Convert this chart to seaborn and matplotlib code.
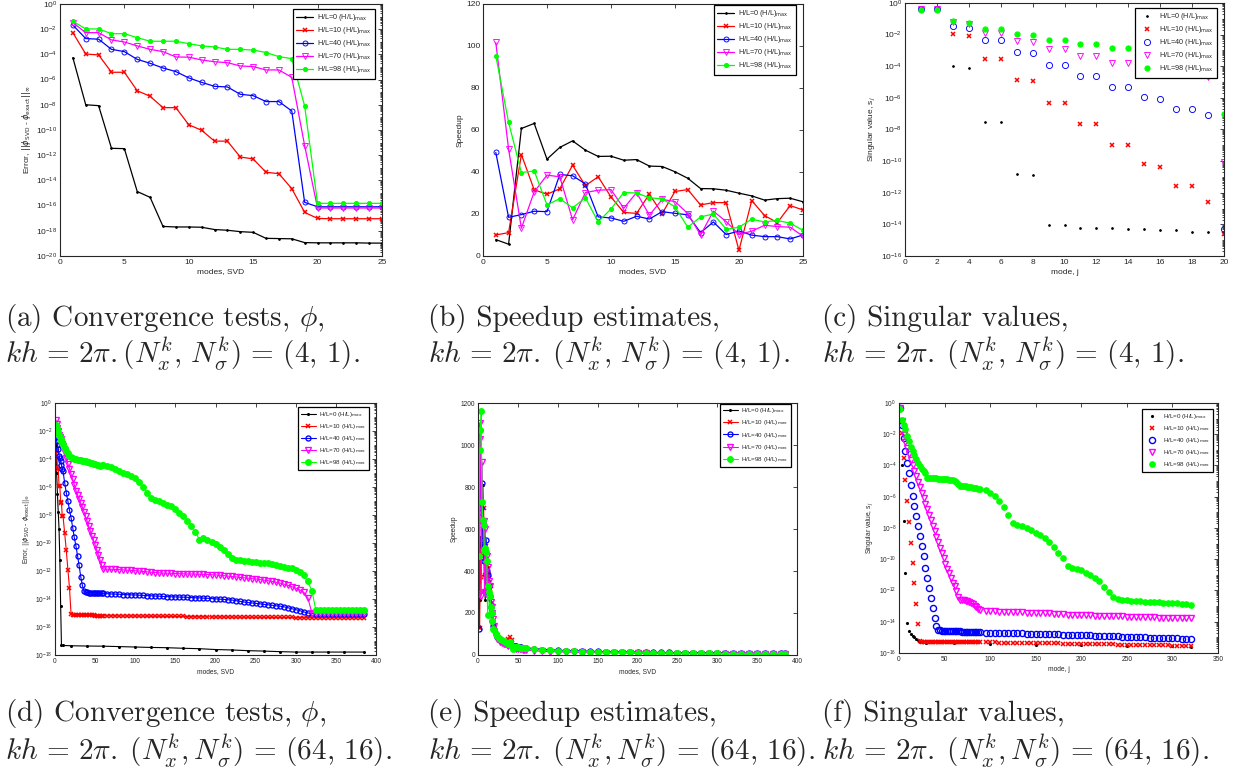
import numpy as np
import matplotlib
matplotlib.use("Agg")
import matplotlib.pyplot as plt
import matplotlib.ticker as mticker
import seaborn as sns

# ---------------- data ----------------
labels = [r"H/L=0 (H/L)$_{\rm max}$", r"H/L=10 (H/L)$_{\rm max}$", r"H/L=40 (H/L)$_{\rm max}$",
          r"H/L=70 (H/L)$_{\rm max}$", r"H/L=98 (H/L)$_{\rm max}$"]
colors = ["#000000", "#ff0000", "#0000ff", "#ff00ff", "#00ff00"]
markers = [".", "x", "o", "v", "o"]
filled = [True, True, False, False, True]

# (a) convergence, (4,1)
modes_a = list(range(1, 26))
a_h0 = [5.5e-5, 1.0e-8, 8.5e-9, 3.5e-12, 3.3e-12, 1.3e-15, 4.5e-16, 2.2e-18, 2.0e-18, 2.0e-18,
        1.9e-18, 1.25e-18, 1.1e-18, 8.5e-19, 7.5e-19, 2.5e-19, 2.4e-19, 2.3e-19, 1.15e-19, 1.1e-19,
        1.1e-19, 1.1e-19, 1.1e-19, 1.05e-19, 1.05e-19]
a_h10 = [5.3e-3, 1.07e-4, 9.0e-5, 3.8e-6, 3.8e-6, 1.3e-7, 4.7e-8, 5.9e-9, 5.9e-9, 2.6e-10,
         9.4e-11, 1.3e-11, 1.3e-11, 7.2e-13, 5.0e-13, 4.4e-14, 3.4e-14, 2.2e-15, 2.9e-17, 9.5e-18,
         9.0e-18, 9.0e-18, 9.0e-18, 9.0e-18, 9.0e-18]
a_h40 = [2.1e-2, 1.8e-3, 1.6e-3, 2.5e-4, 1.65e-4, 4.0e-5, 1.95e-5, 8.3e-6, 4.3e-6, 1.35e-6,
         6.0e-7, 2.9e-7, 2.6e-7, 6.8e-8, 5.3e-8, 1.8e-8, 1.8e-8, 3.2e-9, 1.8e-16, 8.0e-17,
         8.0e-17, 8.0e-17, 8.0e-17, 8.0e-17, 8.0e-17]
a_h70 = [3.3e-2, 5.3e-3, 5.3e-3, 1.4e-3, 9.6e-4, 4.7e-4, 2.5e-4, 1.65e-4, 6.2e-5, 6.0e-5,
         3.6e-5, 2.6e-5, 2.2e-5, 1.2e-5, 1.07e-5, 5.8e-6, 5.8e-6, 1.5e-6, 5.7e-12, 6.4e-17,
         6.4e-17, 6.4e-17, 6.4e-17, 6.4e-17, 6.4e-17]
a_h98 = [4.2e-2, 1.04e-2, 1.04e-2, 4.4e-3, 4.4e-3, 2.1e-3, 1.1e-3, 1.1e-3, 1.1e-3, 7.1e-4,
         4.7e-4, 3.9e-4, 2.5e-4, 2.5e-4, 2.2e-4, 1.4e-4, 6.6e-5, 4.6e-5, 8.0e-9, 1.5e-16,
         1.5e-16, 1.5e-16, 1.5e-16, 1.5e-16, 1.5e-16]

# (b) speedup, (4,1)
modes_b = list(range(1, 26))
b_h0 = [7.8, 5.6, 60.7, 63.1, 46.1, 51.7, 54.8, 50.4, 47.4, 47.5, 45.6, 45.9, 42.8, 42.6, 40.1,
        37.0, 32.1, 32.0, 31.3, 29.9, 28.6, 26.6, 27.3, 27.5, 25.8]
b_h10 = [10.0, 11.1, 48.3, 31.5, 29.4, 32.0, 43.2, 33.5, 37.7, 28.1, 20.7, 20.3, 29.4, 20.2, 30.7,
         31.6, 24.3, 25.4, 25.4, 2.7, 26.4, 19.2, 15.9, 24.0, 21.9]
b_h40 = [49.3, 18.4, 19.7, 21.3, 21.1, 38.8, 38.2, 34.3, 18.6, 18.1, 16.5, 18.9, 17.6, 21.1, 20.3,
         19.6, 11.1, 16.2, 10.2, 11.9, 9.9, 9.2, 9.2, 8.1, 10.0]
b_h70 = [101.7, 50.9, 13.2, 30.5, 38.5, 37.7, 17.2, 30.2, 31.3, 31.6, 22.7, 30.2, 19.4, 26.9, 25.9,
         20.2, 10.0, 21.3, 16.4, 10.2, 11.8, 14.6, 14.0, 13.7, 9.4]
b_h98 = [95.4, 63.6, 39.7, 40.5, 24.3, 27.3, 22.9, 27.7, 16.2, 22.4, 30.2, 30.0, 27.7, 27.2, 23.4,
         13.7, 18.6, 20.0, 12.7, 13.7, 17.5, 16.2, 16.9, 15.6, 12.2]

# (c) singular values, (4,1)
modes_c = list(range(1, 21))
c_h0 = [0.42, 0.42, 1.07e-4, 8.1e-5, 3.1e-8, 3.1e-8, 1.44e-11, 1.23e-11, 8.9e-15, 8.9e-15,
        6.3e-15, 6.3e-15, 6.0e-15, 5.2e-15, 5.0e-15, 4.6e-15, 4.3e-15, 3.4e-15, 3.4e-15, 3.0e-15]
c_h10 = [0.42, 0.42, 1.04e-2, 7.8e-3, 2.9e-4, 2.9e-4, 1.28e-5, 1.1e-5, 4.9e-7, 4.9e-7,
         2.3e-8, 2.3e-8, 1.08e-9, 1.08e-9, 6.7e-11, 4.0e-11, 2.5e-12, 2.5e-12, 2.7e-13, 2.4e-15]
c_h40 = [0.42, 0.42, 3.7e-2, 2.7e-2, 4.4e-3, 4.4e-3, 7.6e-4, 6.9e-4, 1.2e-4, 1.2e-4,
         2.5e-5, 2.5e-5, 4.8e-6, 4.8e-6, 1.2e-6, 7.9e-7, 2.0e-7, 2.0e-7, 8.5e-8, 4.8e-15]
c_h70 = [0.42, 0.42, 6.0e-2, 4.5e-2, 1.2e-2, 1.2e-2, 3.9e-3, 3.2e-3, 1.2e-3, 1.2e-3,
         4.2e-4, 4.2e-4, 1.7e-4, 1.7e-4, 5.2e-5, 5.2e-5, 2.9e-5, 2.9e-5, 2.2e-5, 8.7e-11]
c_h98 = [0.35, 0.35, 7.6e-2, 5.7e-2, 2.2e-2, 2.2e-2, 1.1e-2, 9.0e-3, 4.6e-3, 4.6e-3,
         2.6e-3, 2.6e-3, 1.4e-3, 1.4e-3, 8.0e-4, 8.0e-4, 4.0e-4, 4.0e-4, 2.0e-4, 8.9e-8]

# (d) convergence, (64,16) -- log10 of the error
modes_d = list(range(1, 11)) + list(range(12, 61, 2)) + list(range(65, 386, 5))
modes_d_h0 = [1, 2, 3, 4, 5, 6, 7, 8, 10, 20, 40, 60, 80, 100, 120, 140, 160, 180, 200, 220,
              240, 260, 280, 300, 320, 340, 360, 385]
d_h0 = [-3.0, -5.0, -6.5, -7.8, -9.0, -11.2, -14.5, -17.3, -17.32, -17.34, -17.36, -17.37, -17.4,
        -17.43, -17.46, -17.48, -17.52, -17.55, -17.61, -17.64, -17.69, -17.72, -17.76, -17.79,
        -17.79, -17.79, -17.79, -17.79]
d_h10 = [-3.4, -3.45, -4.6, -4.7, -5.9, -5.95, -7.1, -7.15, -8.05, -8.1,
         -9.3, -10.5, -11.9, -13.2, -15.1, -15.12, -15.13, -15.13, -15.14, -15.14,
         -15.15, -15.15, -15.15, -15.16, -15.16, -15.16, -15.17, -15.17, -15.17, -15.18,
         -15.18, -15.18, -15.18, -15.19, -15.19,
         -15.2, -15.2, -15.2, -15.21, -15.21, -15.21, -15.21, -15.21, -15.22, -15.22,
         -15.22, -15.23, -15.23, -15.23, -15.24, -15.24, -15.24, -15.25, -15.25, -15.25,
         -15.26, -15.26, -15.26, -15.26, -15.27, -15.27, -15.27, -15.28, -15.28, -15.28,
         -15.29, -15.29, -15.29, -15.3, -15.3, -15.3, -15.3, -15.31, -15.31, -15.31,
         -15.31, -15.32, -15.32, -15.32, -15.32, -15.32, -15.32, -15.33, -15.33, -15.33,
         -15.33, -15.33, -15.33, -15.33, -15.33, -15.33, -15.33, -15.33, -15.33, -15.33,
         -15.33, -15.33, -15.33, -15.33, -15.33]
d_h40 = [-2.4, -2.7, -3.0, -3.3, -3.75, -3.95, -4.17, -4.4, -4.7, -4.89,
         -5.7, -6.4, -7.0, -7.65, -8.2, -8.9, -9.6, -10.2, -10.9, -11.6,
         -12.4, -13.0, -13.45, -13.52, -13.53, -13.54, -13.55, -13.56, -13.57, -13.58,
         -13.58, -13.59, -13.59, -13.6, -13.6,
         -13.62, -13.64, -13.65, -13.66, -13.68, -13.69, -13.7, -13.71, -13.73, -13.74,
         -13.76, -13.77, -13.79, -13.8, -13.82, -13.83, -13.84, -13.85, -13.86, -13.87,
         -13.88, -13.9, -13.91, -13.92, -13.94, -13.95, -13.97, -13.99, -14.01, -14.03,
         -14.05, -14.07, -14.11, -14.16, -14.21, -14.25, -14.28, -14.31, -14.34, -14.38,
         -14.41, -14.44, -14.48, -14.51, -14.55, -14.62, -14.69, -14.76, -14.83, -14.92,
         -15.0, -15.03, -15.04, -15.04, -15.05, -15.05, -15.05, -15.05, -15.06, -15.06,
         -15.06, -15.06, -15.07, -15.07, -15.07]
d_h70 = [-1.19, -1.5, -1.8, -2.0, -2.25, -2.45, -2.6, -2.75, -2.9, -3.05,
         -3.55, -3.95, -4.35, -4.7, -5.1, -5.45, -5.85, -6.25, -6.55, -6.85,
         -7.15, -7.45, -7.75, -8.1, -8.45, -8.8, -9.15, -9.5, -9.8, -10.15,
         -10.5, -10.85, -11.2, -11.6, -11.87,
         -11.87, -11.88, -11.89, -11.9, -11.92, -11.94, -11.96, -11.98, -12.0, -12.03,
         -12.06, -12.09, -12.11, -12.13, -12.15, -12.16, -12.17, -12.18, -12.19, -12.2,
         -12.21, -12.21, -12.22, -12.23, -12.24, -12.25, -12.27, -12.28, -12.3, -12.33,
         -12.36, -12.39, -12.42, -12.45, -12.48, -12.51, -12.54, -12.57, -12.61, -12.65,
         -12.69, -12.74, -12.8, -12.86, -12.93, -13.02, -13.12, -13.22, -13.35, -13.52,
         -13.9, -14.98, -15.0, -15.0, -15.01, -15.01, -15.01, -15.02, -15.02, -15.02,
         -15.02, -15.03, -15.03, -15.03, -15.03]
d_h98 = [-1.6, -1.75, -1.9, -2.05, -2.25, -2.4, -2.55, -2.7, -2.85, -2.95,
         -3.2, -3.4, -3.6, -3.78, -3.88, -3.95, -4.0, -4.02, -4.05, -4.07,
         -4.1, -4.12, -4.14, -4.16, -4.18, -4.22, -4.26, -4.3, -4.34, -4.38,
         -4.42, -4.46, -4.48, -4.45, -4.41,
         -4.48, -4.56, -4.7, -4.86, -4.97, -5.08, -5.2, -5.35, -5.65, -6.0,
         -6.4, -6.8, -6.9, -7.0, -7.15, -7.27, -7.38, -7.6, -7.84, -8.1,
         -8.4, -8.75, -9.2, -9.78, -9.66, -9.8, -9.95, -10.1, -10.27, -10.5,
         -10.78, -11.08, -11.18, -11.22, -11.27, -11.31, -11.34, -11.37, -11.4, -11.43,
         -11.45, -11.5, -11.56, -11.62, -11.68, -11.75, -11.82, -11.9, -12.05, -12.3,
         -12.75, -13.4, -14.78, -14.78, -14.78, -14.78, -14.78, -14.78, -14.78, -14.78,
         -14.78, -14.78, -14.78, -14.78, -14.78]

# (e) speedup, (64,16)
modes_e = list(range(1, 21)) + list(range(22, 61, 2)) + list(range(70, 381, 10)) + [385]
e_h0 = [140, 260, 560, 520, 600, 810, 560, 380, 260, 520, 380, 420, 300, 350, 260, 250, 200, 160, 140, 120,
        110, 95, 85, 80, 72, 66, 62, 58, 55, 52, 50, 48, 45, 43, 41, 39, 37, 36, 35, 34,
        30, 26, 24, 22, 21, 19, 18, 17, 16, 15, 14, 14, 13, 13, 12, 12, 11, 11, 11, 10,
        10, 10, 9, 9, 9, 8, 8, 8, 8, 7, 7, 7, 7]
e_h10 = [350, 130, 500, 370, 640, 600, 700, 470, 380, 520, 430, 400, 330, 380, 300, 330, 240, 190, 150, 130,
         105, 90, 80, 70, 68, 60, 58, 60, 75, 87, 70, 45, 42, 40, 38, 36, 35, 33, 32, 31,
         27, 24, 22, 20, 18, 17, 16, 15, 14, 13, 13, 12, 12, 11, 11, 10, 10, 10, 9, 9,
         9, 8, 8, 8, 8, 7, 7, 7, 7, 6, 6, 6, 6]
e_h40 = [125, 680, 1070, 700, 820, 550, 450, 520, 300, 550, 400, 380, 300, 330, 280, 230, 200, 160, 140, 125,
         100, 88, 78, 72, 66, 62, 58, 55, 52, 50, 47, 45, 43, 41, 39, 38, 36, 35, 34, 33,
         30, 26, 24, 22, 21, 20, 19, 18, 17, 16, 15, 15, 14, 14, 13, 13, 12, 12, 11, 11,
         11, 10, 10, 10, 9, 9, 9, 9, 8, 8, 8, 8, 8]
e_h70 = [290, 1105, 1030, 280, 920, 620, 640, 300, 600, 290, 470, 420, 300, 350, 330, 250, 200, 230, 170, 140,
         90, 78, 70, 62, 58, 52, 50, 46, 44, 55, 38, 36, 34, 30, 29, 28, 27, 26, 25, 24,
         21, 17, 16, 15, 14, 13, 12, 11, 11, 10, 9, 9, 9, 8, 8, 7, 7, 7, 6, 6,
         6, 6, 5, 5, 5, 5, 5, 4, 4, 4, 4, 4, 4]
e_h98 = [470, 975, 1070, 1160, 730, 645, 620, 500, 510, 490, 450, 190, 330, 300, 280, 230, 200, 160, 125, 120,
         100, 90, 80, 75, 70, 65, 60, 56, 52, 60, 45, 30, 40, 38, 36, 35, 34, 33, 32, 31,
         28, 22, 22, 20, 19, 17, 16, 15, 14, 13, 13, 12, 12, 11, 11, 10, 10, 10, 9, 9,
         9, 8, 8, 8, 7, 7, 7, 6, 6, 6, 6, 6, 6]

# (f) singular values, (64,16) -- log10 of s_j
modes_f = list(range(1, 90, 2)) + list(range(95, 321, 5))
modes_f_h0 = [1, 3, 5, 7, 9, 11, 13, 15, 17, 19, 21, 23, 30, 60, 100, 150, 200, 250, 300, 320]
f_h0 = [-0.38, -4.0, -7.55, -10.9, -14.08, -14.6, -14.8, -14.93, -15.0, -15.1,
        -15.2, -15.3, -15.35, -15.38, -15.42, -15.46, -15.5, -15.54, -15.58, -15.6]
f_h10 = [-0.38, -1.92, -3.52, -4.91, -6.3, -7.64, -8.96, -10.24, -11.55, -12.85,
         -14.14, -15.26, -15.27, -15.27, -15.27, -15.27, -15.27, -15.27, -15.27, -15.27,
         -15.27, -15.27, -15.27, -15.27, -15.27, -15.28, -15.28, -15.28, -15.28, -15.28,
         -15.28, -15.28, -15.28, -15.28, -15.28, -15.3, -15.3, -15.3, -15.3, -15.3,
         -15.3, -15.3, -15.3, -15.3, -15.3,
         -15.31, -15.32, -15.32, -15.33, -15.33, -15.34, -15.34, -15.35, -15.35, -15.36,
         -15.36, -15.37, -15.37, -15.38, -15.38, -15.39, -15.39, -15.4, -15.4, -15.41,
         -15.41, -15.42, -15.42, -15.43, -15.43, -15.44, -15.44, -15.45, -15.45, -15.46,
         -15.46, -15.47, -15.47, -15.48, -15.48, -15.49, -15.49, -15.5, -15.5, -15.51,
         -15.52, -15.53, -15.54, -15.55, -15.56, -15.57]
f_h40 = [-0.35, -1.39, -2.24, -3.1, -3.84, -4.48, -5.23, -5.98, -6.62, -7.26,
         -7.9, -8.54, -9.18, -9.82, -10.56, -11.2, -11.84, -12.48, -13.12, -13.76,
         -14.3, -14.5, -14.55, -14.57, -14.58, -14.58, -14.59, -14.59, -14.6, -14.6,
         -14.61, -14.61, -14.62, -14.62, -14.63, -14.63, -14.64, -14.64, -14.65, -14.65,
         -14.66, -14.66, -14.67, -14.67, -14.68,
         -14.69, -14.7, -14.7, -14.71, -14.72, -14.73, -14.73, -14.74, -14.75, -14.76,
         -14.76, -14.77, -14.78, -14.79, -14.79, -14.8, -14.81, -14.82, -14.83, -14.84,
         -14.85, -14.86, -14.87, -14.88, -14.89, -14.9, -14.91, -14.92, -14.93, -14.94,
         -14.95, -14.96, -14.97, -14.98, -14.99, -15.0, -15.01, -15.02, -15.03, -15.04,
         -15.05, -15.06, -15.07, -15.08, -15.09, -15.1]
f_h70 = [-0.35, -1.15, -2.05, -2.5, -2.9, -3.25, -3.62, -4.0, -4.35, -4.7,
         -5.05, -5.4, -5.75, -6.1, -6.45, -6.8, -7.15, -7.5, -7.85, -8.2,
         -8.55, -8.9, -9.25, -9.6, -9.95, -10.28, -10.6, -10.9, -11.2, -11.5,
         -11.74, -12.05, -12.4, -12.59, -12.6, -12.62, -12.65, -12.7, -12.74, -12.8,
         -12.88, -12.97, -13.08, -13.18, -13.24,
         -13.3, -13.32, -13.33, -13.35, -13.36, -13.37, -13.38, -13.39, -13.4, -13.41,
         -13.42, -13.43, -13.44, -13.45, -13.46, -13.48, -13.5, -13.52, -13.54, -13.56,
         -13.57, -13.58, -13.59, -13.6, -13.61, -13.62, -13.63, -13.64, -13.64, -13.65,
         -13.66, -13.67, -13.68, -13.69, -13.7, -13.71, -13.72, -13.72, -13.73, -13.73,
         -13.74, -13.74, -13.75, -13.75, -13.76, -13.76]
f_h98 = [-0.38, -1.1, -1.4, -1.65, -2.1, -2.45, -2.8, -3.1, -3.35, -3.6,
         -3.85, -4.05, -4.2, -4.35, -4.45, -4.8, -4.8, -4.81, -4.82, -4.83,
         -4.83, -4.84, -4.84, -4.85, -4.86, -4.87, -4.89, -4.91, -4.93, -4.95,
         -4.97, -5.05, -5.2, -5.29, -5.3, -5.32, -5.34, -5.36, -5.38, -5.4,
         -5.42, -5.44, -5.46, -5.48, -5.5,
         -5.6, -5.76, -5.98, -6.3, -6.68, -7.17, -7.65, -7.8, -7.9, -8.02,
         -8.15, -8.3, -8.45, -8.67, -8.92, -9.22, -9.6, -9.9, -10.45, -10.55,
         -10.62, -10.72, -10.86, -11.03, -11.21, -11.4, -11.75, -12.1, -12.42, -12.56,
         -12.6, -12.63, -12.65, -12.67, -12.69, -12.71, -12.73, -12.75, -12.76, -12.78,
         -12.8, -12.81, -12.82, -12.84, -12.87, -12.95]

# ---------------- style ----------------
sns.set_theme(style="white")
plt.rcParams["font.family"] = ["Liberation Sans", "DejaVu Sans"]
plt.rcParams["mathtext.fontset"] = "dejavusans"

AX_COLOR = "#262626"


def draw(ax, xs, ys, ms, lw, lines=True, mew=0.65):
    for x, y, lab, c, m, f, s in zip(xs, ys, labels, colors, markers, filled, ms):
        sns.lineplot(x=x, y=y, ax=ax, color=c, marker=m, markersize=s,
                     markerfacecolor=c if f else "none", markeredgecolor=c,
                     markeredgewidth=1.1 if m == "x" else mew,
                     linewidth=lw if lines else 0, linestyle="-" if lines else "none",
                     label=lab, sort=False, estimator=None)


def finish(ax, fs, legfs, anchor, xlim, xticks, ylim, ylog, xlabel, ylabel, lspace):
    ax.set_xlim(*xlim)
    ax.set_xticks(xticks)
    ax.set_ylim(*ylim)
    if ylog:
        ax.set_yscale("log")
        lo = int(round(np.log10(ylim[0])))
        ax.set_yticks([10.0 ** k for k in range(lo, 1, 2)])
        ax.yaxis.set_minor_locator(mticker.LogLocator(base=10, subs=np.arange(1, 10), numticks=400))
        ax.yaxis.set_minor_formatter(mticker.NullFormatter())
    ax.tick_params(which="both", direction="in", top=True, right=True, labelsize=fs,
                   colors=AX_COLOR, width=0.6, pad=2)
    ax.tick_params(which="major", length=3)
    ax.tick_params(which="minor", length=1.5)
    for s in ax.spines.values():
        s.set_color(AX_COLOR)
        s.set_linewidth(0.8)
    ax.set_xlabel(xlabel, fontsize=fs, color=AX_COLOR, labelpad=2)
    ax.set_ylabel(ylabel, fontsize=fs, color=AX_COLOR, labelpad=2)
    leg = ax.legend(loc="upper right", bbox_to_anchor=anchor, fontsize=legfs, frameon=True,
                    fancybox=False, edgecolor="#000000", framealpha=1, borderpad=0.45,
                    labelspacing=lspace, handlelength=2.4, handletextpad=0.5, borderaxespad=0)
    leg.get_frame().set_linewidth(0.9)


fig = plt.figure(figsize=(12.34, 7.78), dpi=100)
ax_a = fig.add_axes([0.0486, 0.6710, 0.2609, 0.3239])
ax_b = fig.add_axes([0.3914, 0.6710, 0.2593, 0.3239])
ax_c = fig.add_axes([0.7334, 0.6710, 0.2585, 0.3252])
ax_d = fig.add_axes([0.0446, 0.1581, 0.2601, 0.3239])
ax_e = fig.add_axes([0.3874, 0.1581, 0.2585, 0.3239])
ax_f = fig.add_axes([0.7285, 0.1607, 0.2585, 0.3213])

err_label = r"Error, $||\phi_{\rm SVD}$ - $\phi_{\rm exact}||_{\infty}$"
sv_label = r"Singular value, s$_{j}$"
ms_top = [2.5, 3.2, 3.6, 4.2, 3.0]
ms_sv = [2.5, 3.4, 4.4, 4.8, 3.8]
ms_bot = [2.5, 3.0, 3.6, 4.2, 4.0]

# (a)
draw(ax_a, [modes_a] * 5, [a_h0, a_h10, a_h40, a_h70, a_h98], ms_top, 0.9)
finish(ax_a, 6, 5.2, (0.978, 0.98), (0, 25), range(0, 26, 5), (1e-20, 1), True,
       "modes, SVD", err_label, 0.28)
# (b)
draw(ax_b, [modes_b] * 5, [b_h0, b_h10, b_h40, b_h70, b_h98], ms_top, 0.9)
finish(ax_b, 6, 5.2, (0.978, 0.996), (0, 25), range(0, 26, 5), (0, 120), False,
       "modes, SVD", "Speedup", 0.28)
ax_b.set_yticks(range(0, 121, 20))
# (c)
draw(ax_c, [modes_c] * 5, [c_h0, c_h10, c_h40, c_h70, c_h98], ms_sv, 0, lines=False)
finish(ax_c, 6, 5.2, (0.978, 0.98), (0, 20), range(0, 21, 2), (1e-16, 1), True,
       "mode, j", sv_label, 0.28)

# (d)
d_logs = [d_h0, d_h10, d_h40, d_h70, d_h98]
d_x = [modes_d_h0, modes_d, modes_d, modes_d, modes_d]
draw(ax_d, d_x, [np.power(10.0, v) for v in d_logs], ms_bot, 0.8, mew=0.95)
finish(ax_d, 4.8, 4.5, (0.978, 0.984), (0, 400), range(0, 401, 50), (1e-18, 1), True,
       "modes, SVD", err_label, 0.5)
# (e)
draw(ax_e, [modes_e] * 5, [e_h0, e_h10, e_h40, e_h70, e_h98], ms_bot, 0.8, mew=0.95)
finish(ax_e, 4.8, 4.5, (0.981, 0.998), (0, 400), range(0, 401, 50), (0, 1200), False,
       "modes, SVD", "Speedup", 0.5)
ax_e.set_yticks(range(0, 1201, 200))
# (f)
f_logs = [f_h0, f_h10, f_h40, f_h70, f_h98]
f_x = [modes_f_h0, modes_f, modes_f, modes_f, modes_f]
draw(ax_f, f_x, [np.power(10.0, v) for v in f_logs], [2.5, 3.2, 4.4, 4.6, 3.8], 0,
     lines=False, mew=1.0)
finish(ax_f, 4.8, 4.5, (0.984, 0.976), (0, 350), range(0, 351, 50), (1e-16, 1), True,
       "mode, j", sv_label, 0.5)

# ---------------- captions ----------------
cap_fs = 21
cap_kw = dict(fontsize=cap_fs, family="cmr10", math_fontfamily="cm", va="baseline", ha="left")
cap_x = [0.004, 0.3470, 0.6665]
top1 = [r"(a) Convergence tests, $\phi$,", "(b) Speedup estimates,", "(c) Singular values,"]
top2 = [r"$kh\,=\,2\pi.(N_x^k,\,N_\sigma^k)\,=\,(4,\,1).$",
        r"$kh\,=\,2\pi.\;(N_x^k,\,N_\sigma^k)\,=\,(4,\,1).$",
        r"$kh\,=\,2\pi.\;(N_x^k,\,N_\sigma^k)\,=\,(4,\,1).$"]
bot1 = [r"(d) Convergence tests, $\phi$,", "(e) Speedup estimates,", "(f) Singular values,"]
bot2 = [r"$kh\,=\,2\pi.\;(N_x^k,N_\sigma^k)\,=\,(64,\,16).$"] * 3
for x, t1, t2, b1, b2 in zip(cap_x, top1, top2, bot1, bot2):
    fig.text(x, 1 - 326 / 778, t1, **cap_kw)
    fig.text(x, 1 - 364 / 778, t2, **cap_kw)
    fig.text(x, 1 - 721 / 778, b1, **cap_kw)
    fig.text(x, 1 - 761 / 778, b2, **cap_kw)

fig.savefig("out.png", dpi=100)
